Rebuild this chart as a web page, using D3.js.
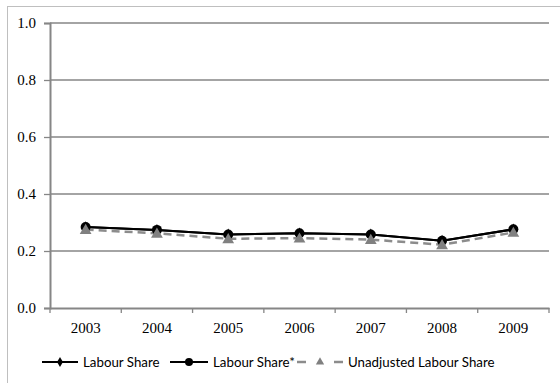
<!DOCTYPE html>
<html>
<head>
<meta charset="utf-8">
<script src="https://cdn.jsdelivr.net/npm/d3@7"></script>
<style>
  body { margin: 0; background: #fff; }
  svg { display: block; }
</style>
</head>
<body>
<svg id="chart" width="560" height="383"></svg>
<script>
// data
var years = ['2003', '2004', '2005', '2006', '2007', '2008', '2009'];
var labourShare = [0.284, 0.274, 0.258, 0.262, 0.258, 0.236, 0.276];
var labourShareStar = [0.284, 0.274, 0.258, 0.262, 0.258, 0.236, 0.276];
var unadjusted = [0.275, 0.262, 0.243, 0.245, 0.240, 0.222, 0.265];
var yTicks = [0, 0.2, 0.4, 0.6, 0.8, 1.0];

var svg = d3.select('#chart');
var plotLeft = 50, plotRight = 549, plotTop = 23, plotBottom = 308;

// outer chart border (runs off the right/bottom edge)
svg.append('rect')
    .attr('x', 7.5).attr('y', 6.5)
    .attr('width', 570).attr('height', 400)
    .attr('fill', 'none').attr('stroke', '#bfbfbf').attr('stroke-width', 1);

var x = d3.scaleBand().domain(years).range([plotLeft, plotRight]);
var y = d3.scaleLinear().domain([0, 1]).range([plotBottom, plotTop]);

// gridlines
svg.append('g').selectAll('line')
    .data(yTicks.filter(function (d) { return d > 0; }))
    .enter().append('line')
    .attr('x1', plotLeft).attr('x2', plotRight)
    .attr('y1', function (d) { return y(d); })
    .attr('y2', function (d) { return y(d); })
    .attr('stroke', '#868686').attr('stroke-width', 1.3);

// y axis
var yAxis = svg.append('g')
    .attr('transform', 'translate(' + plotLeft + ',0)')
    .call(d3.axisLeft(y).tickValues(yTicks).tickFormat(d3.format('.1f')).tickSize(6).tickPadding(8));
yAxis.select('.domain').attr('stroke', '#868686').attr('stroke-width', 2);
yAxis.selectAll('.tick line').attr('stroke', '#868686').attr('stroke-width', 1.3);
yAxis.selectAll('text')
    .attr('font-family', '"Liberation Serif", "Times New Roman", serif')
    .attr('font-size', 15).attr('fill', '#000');

// x axis, ticks between categories
var xAxis = svg.append('g')
    .attr('transform', 'translate(0,' + plotBottom + ')')
    .call(d3.axisBottom(x).tickSize(0).tickPadding(14));
xAxis.select('.domain').attr('stroke', '#868686').attr('stroke-width', 2);
xAxis.selectAll('text')
    .attr('font-family', '"Liberation Serif", "Times New Roman", serif')
    .attr('font-size', 15).attr('fill', '#000');
xAxis.selectAll('.sep')
    .data(years.concat(['end']))
    .enter().append('line')
    .attr('class', 'sep')
    .attr('x1', function (d, i) { return plotLeft + i * x.step(); })
    .attr('x2', function (d, i) { return plotLeft + i * x.step(); })
    .attr('y1', 0).attr('y2', 5)
    .attr('stroke', '#868686').attr('stroke-width', 1.3);

var cx = function (d, i) { return x(years[i]) + x.bandwidth() / 2; };
var line = d3.line().x(cx).y(function (d) { return y(d); });

var tri = d3.symbol().type(d3.symbolTriangle).size(60);
var dia = d3.symbol().type(d3.symbolDiamond).size(40);

// unadjusted dashed line (under the black lines)
svg.append('path').datum(unadjusted)
    .attr('d', line).attr('fill', 'none')
    .attr('stroke', '#8c8c8c').attr('stroke-width', 2.5)
    .attr('stroke-dasharray', '8,5');

// labour share (diamonds)
svg.append('path').datum(labourShare)
    .attr('d', line).attr('fill', 'none')
    .attr('stroke', '#000').attr('stroke-width', 2);
svg.append('g').selectAll('path')
    .data(labourShare).enter().append('path')
    .attr('d', dia)
    .attr('transform', function (d, i) { return 'translate(' + cx(d, i) + ',' + y(d) + ')'; })
    .attr('fill', '#000');

// labour share* (circles)
svg.append('path').datum(labourShareStar)
    .attr('d', line).attr('fill', 'none')
    .attr('stroke', '#000').attr('stroke-width', 2);
svg.append('g').selectAll('circle')
    .data(labourShareStar).enter().append('circle')
    .attr('cx', cx).attr('cy', function (d) { return y(d); })
    .attr('r', 5).attr('fill', '#000');

// unadjusted triangles on top
svg.append('g').selectAll('path')
    .data(unadjusted).enter().append('path')
    .attr('d', tri)
    .attr('transform', function (d, i) { return 'translate(' + cx(d, i) + ',' + (y(d) + 1) + ')'; })
    .attr('fill', '#808080');

// legend
var legendY = 362;
var legend = svg.append('g').attr('font-family', 'Lato, "Open Sans", sans-serif')
    .attr('font-size', 13.3);
var items = [
    { label: 'Labour Share', x0: 42, x1: 78, tx: 83, mark: 'diamond' },
    { label: 'Labour Share*', x0: 170, x1: 208, tx: 213, mark: 'circle' },
    { label: 'Unadjusted Labour Share', x0: 297, x1: 343, tx: 348, mark: 'triangle' }
];
items.forEach(function (it) {
    var mid = (it.x0 + it.x1) / 2;
    if (it.mark === 'triangle') {
        legend.append('line').attr('x1', it.x0).attr('x2', it.x0 + 9)
            .attr('y1', legendY).attr('y2', legendY)
            .attr('stroke', '#8c8c8c').attr('stroke-width', 2.5);
        legend.append('line').attr('x1', it.x1 - 9).attr('x2', it.x1)
            .attr('y1', legendY).attr('y2', legendY)
            .attr('stroke', '#8c8c8c').attr('stroke-width', 2.5);
        legend.append('path').attr('d', d3.symbol().type(d3.symbolTriangle).size(30))
            .attr('transform', 'translate(' + mid + ',' + legendY + ')')
            .attr('fill', '#808080');
    } else {
        legend.append('line').attr('x1', it.x0).attr('x2', it.x1)
            .attr('y1', legendY).attr('y2', legendY)
            .attr('stroke', '#000').attr('stroke-width', 2);
        if (it.mark === 'circle') {
            legend.append('circle').attr('cx', mid).attr('cy', legendY).attr('r', 4).attr('fill', '#000');
        } else {
            legend.append('path').attr('d', d3.symbol().type(d3.symbolDiamond).size(30))
                .attr('transform', 'translate(' + mid + ',' + legendY + ')')
                .attr('fill', '#000');
        }
    }
    legend.append('text').attr('x', it.tx).attr('y', legendY)
        .attr('dy', '0.35em').attr('fill', '#000').text(it.label);
});
</script>
</body>
</html>
